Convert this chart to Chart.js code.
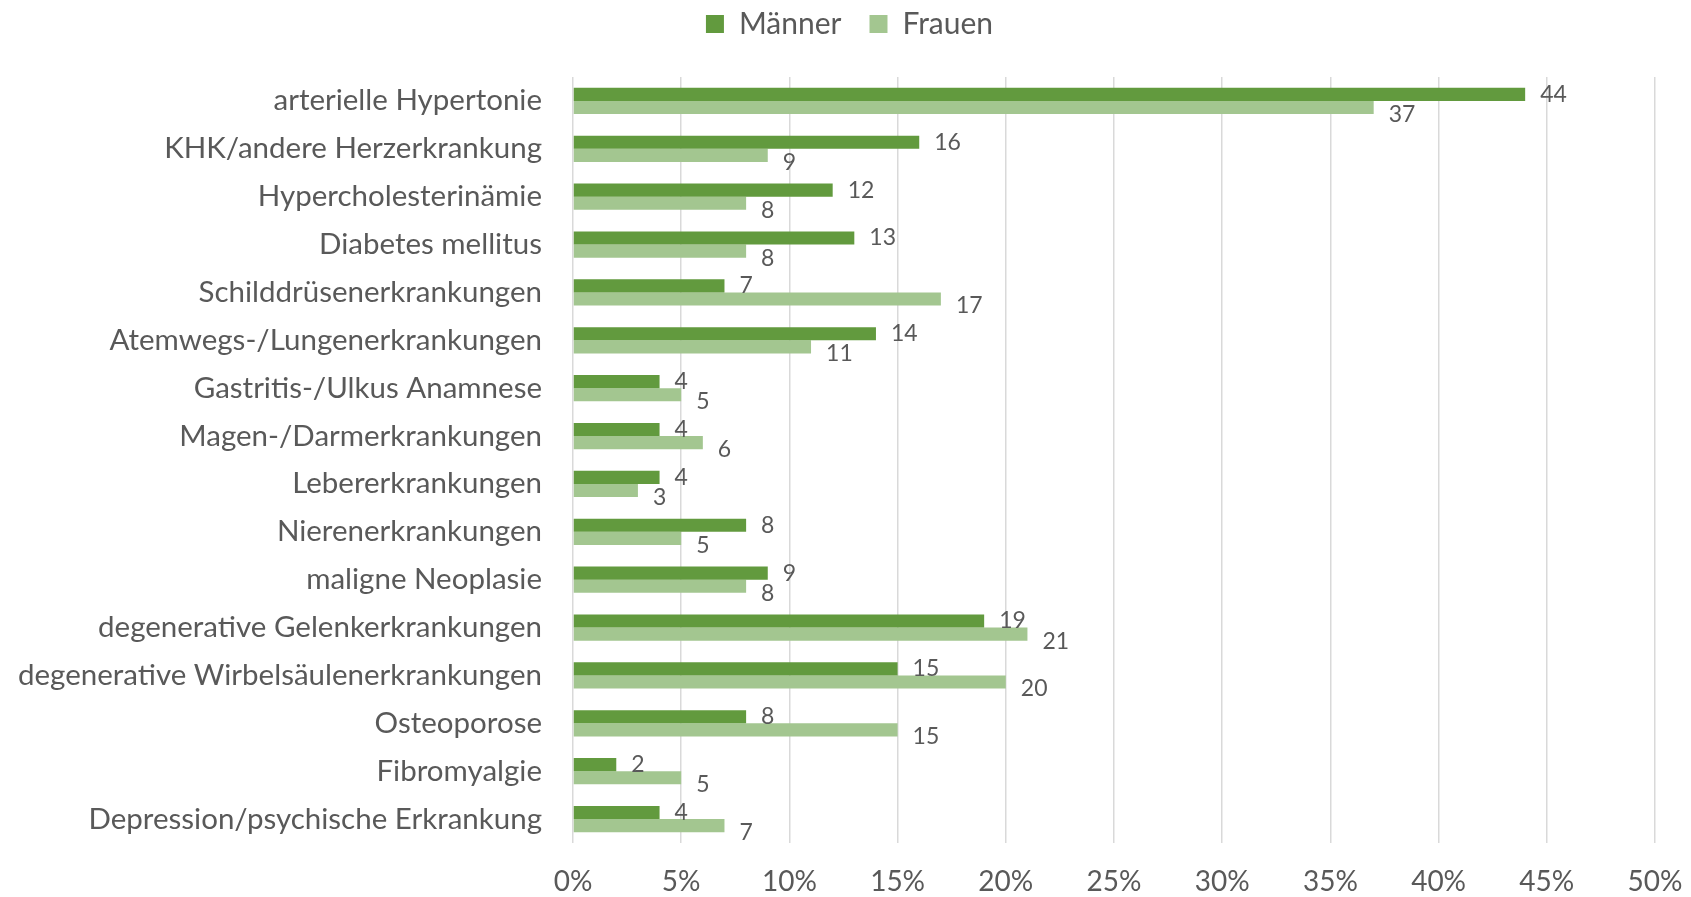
<!DOCTYPE html>
<html>
<head>
<meta charset="utf-8">
<title>Vorerkrankungen nach Geschlecht</title>
<script src="https://cdn.jsdelivr.net/npm/chart.js@4.4.1/dist/chart.umd.min.js"></script>
<style>
  html, body { margin: 0; padding: 0; background: #fff; }
  #wrap { width: 1691px; height: 897px; }
</style>
</head>
<body>
<div id="wrap"><canvas id="chart" width="1691" height="897"></canvas></div>
<script>
// Categories and percent values per group
const categories = [
  'arterielle Hypertonie',
  'KHK/andere Herzerkrankung',
  'Hypercholesterinämie',
  'Diabetes mellitus',
  'Schilddrüsenerkrankungen',
  'Atemwegs-/Lungenerkrankungen',
  'Gastritis-/Ulkus Anamnese',
  'Magen-/Darmerkrankungen',
  'Lebererkrankungen',
  'Nierenerkrankungen',
  'maligne Neoplasie',
  'degenerative Gelenkerkrankungen',
  'degenerative Wirbelsäulenerkrankungen',
  'Osteoporose',
  'Fibromyalgie',
  'Depression/psychische Erkrankung'
];
const maenner = [44, 16, 12, 13, 7, 14, 4, 4, 4, 8, 9, 19, 15, 8, 2, 4];
const frauen  = [37, 9, 8, 8, 17, 11, 5, 6, 3, 5, 8, 21, 20, 15, 5, 7];
const xTicks = [0, 5, 10, 15, 20, 25, 30, 35, 40, 45, 50];

const FONT = 'Lato, "Open Sans", sans-serif';
const TEXT = '#595959';

// value labels drawn just past the end of each bar
const valueLabels = {
  id: 'valueLabels',
  afterDatasetsDraw(chart) {
    const ctx = chart.ctx;
    ctx.save();
    ctx.font = '23px ' + FONT;
    ctx.fillStyle = TEXT;
    ctx.textBaseline = 'middle';
    ctx.textAlign = 'left';
    chart.data.datasets.forEach((ds, i) => {
      const meta = chart.getDatasetMeta(i);
      meta.data.forEach((bar, j) => {
        const dy = i === 0 ? 0 : 7;
        ctx.fillText(String(ds.data[j]), bar.x + 15, bar.y + dy);
      });
    });
    ctx.restore();
  }
};

// extra room under the legend, and legend nudged a bit to the right
const legendGap = {
  id: 'legendGap',
  beforeInit(chart) {
    const fit = chart.legend.fit;
    chart.legend.fit = function () {
      fit.call(this);
      this.height += 28;
    };
  },
  afterLayout(chart) {
    chart.legend.left += 22;
    chart.legend.right += 22;
  }
};

new Chart(document.getElementById('chart'), {
  type: 'bar',
  data: {
    labels: categories,
    datasets: [
      { label: 'Männer', data: maenner, backgroundColor: '#629a3e', borderWidth: 0 },
      { label: 'Frauen', data: frauen, backgroundColor: '#a3c690', borderWidth: 0 }
    ]
  },
  options: {
    indexAxis: 'y',
    responsive: false,
    animation: false,
    categoryPercentage: 0.55,
    barPercentage: 1.0,
    layout: { padding: { left: 0, right: 36, top: -19, bottom: 0 } },
    plugins: {
      legend: {
        position: 'top',
        labels: {
          font: { family: FONT, size: 30 },
          color: TEXT,
          boxWidth: 18,
          boxHeight: 18,
          padding: 28
        }
      },
      tooltip: { enabled: false }
    },
    scales: {
      x: {
        min: 0,
        max: 50,
        afterBuildTicks: s => { s.ticks = xTicks.map(v => ({ value: v })); },
        afterFit: s => { s.height = 54; s.paddingLeft = 0; s.paddingRight = 0; },
        ticks: {
          callback: v => v + '%',
          font: { family: FONT, size: 28 },
          color: TEXT,
          padding: 22
        },
        grid: { color: '#d9d9d9', lineWidth: 1.5, drawTicks: false },
        border: { display: false }
      },
      y: {
        ticks: {
          font: { family: FONT, size: 29.5 },
          color: TEXT,
          padding: 31,
          autoSkip: false
        },
        afterFit: s => { s.width = 573; },
        grid: { display: false, drawTicks: false },
        border: { display: false }
      }
    }
  },
  plugins: [valueLabels, legendGap]
});
</script>
</body>
</html>
